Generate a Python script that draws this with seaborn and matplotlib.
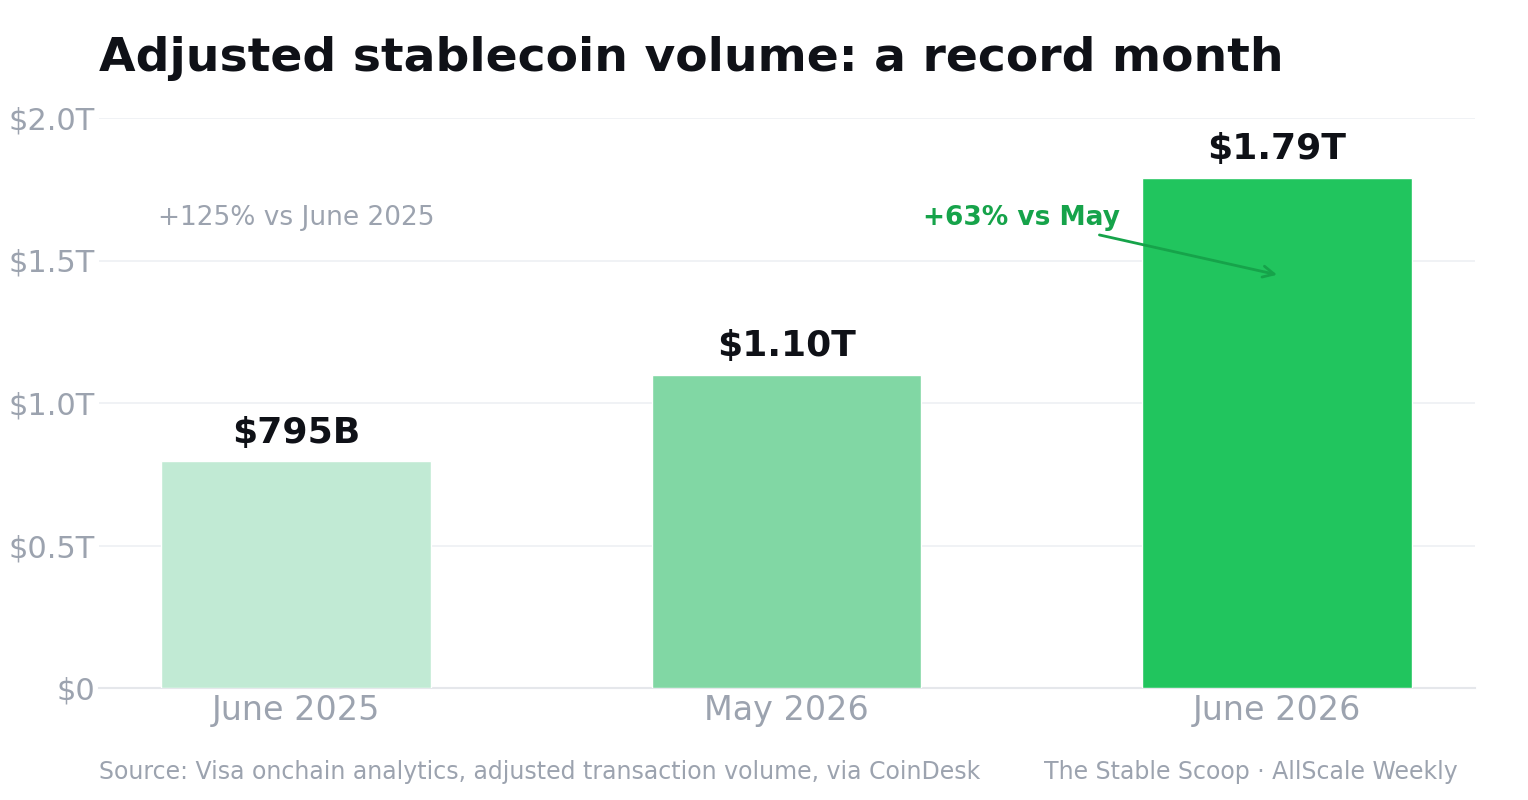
import matplotlib
matplotlib.use("Agg")
import matplotlib.pyplot as plt
import seaborn as sns
import pandas as pd

# datos (billones de USD)
months = ["June 2025", "May 2026", "June 2026"]
volume_t = [0.795, 1.10, 1.79]
value_labels = ["$795B", "$1.10T", "$1.79T"]
bar_colors = ["#c1ead4", "#81d7a4", "#21c55e"]
y_ticks = [0, 0.5, 1.0, 1.5, 2.0]
y_tick_labels = ["$0", "$0.5T", "$1.0T", "$1.5T", "$2.0T"]

GREY = "#9ca3af"
DARK = "#0f1117"
GREEN_TXT = "#16a34a"

sns.set_style("white")
plt.rcParams["font.family"] = ["DejaVu Sans"]

df = pd.DataFrame({"month": months, "volume": volume_t})

fig = plt.figure(figsize=(15.28, 8), dpi=100)
ax = fig.add_axes([0.0648, 0.14, 0.9005, 0.7125])

sns.barplot(data=df, x="month", y="volume", hue="month", palette=bar_colors,
            width=0.55, saturation=1, legend=False, ax=ax, zorder=3)

ax.set_xlim(-0.4016, 2.4034)
ax.set_ylim(0, 2.0)
ax.set_yticks(y_ticks)
ax.set_yticklabels(y_tick_labels)
ax.set_xlabel("")
ax.set_ylabel("")
ax.tick_params(axis="both", length=0, labelcolor=GREY)
ax.tick_params(axis="y", pad=3, labelsize=22)
ax.tick_params(axis="x", pad=4, labelsize=24)
ax.grid(axis="y", color="#eef0f3", linewidth=1.2, zorder=0)
ax.set_axisbelow(True)
for side in ["top", "right", "left"]:
    ax.spines[side].set_visible(False)
ax.spines["bottom"].set_color("#e5e7eb")
ax.spines["bottom"].set_linewidth(1.5)

for i, (v, lab) in enumerate(zip(volume_t, value_labels)):
    ax.text(i, v + 0.04, lab, ha="center", va="bottom", fontsize=26,
            fontweight="bold", color=DARK)

ax.text(0, 1.65, "+125% vs June 2025", ha="center", va="center",
        fontsize=19, color=GREY)

ax.annotate("+63% vs May", xy=(2, 1.45), xytext=(1.68, 1.65),
            ha="right", va="center", fontsize=19, fontweight="bold", color=GREEN_TXT,
            arrowprops=dict(arrowstyle="->", color=GREEN_TXT, lw=2,
                            mutation_scale=20, relpos=(0.8, 0.0), shrinkA=3, shrinkB=0))

fig.text(0.0648, 0.911, "Adjusted stablecoin volume: a record month",
         ha="left", va="baseline", fontsize=34, fontweight="bold", color=DARK)

fig.text(0.0648, 0.035, "Source: Visa onchain analytics, adjusted transaction volume, via CoinDesk",
         ha="left", va="center", fontsize=17, color=GREY)
fig.text(0.954, 0.035, "The Stable Scoop \u00b7 AllScale Weekly",
         ha="right", va="center", fontsize=17, color=GREY)

fig.savefig("out.png", dpi=100)
